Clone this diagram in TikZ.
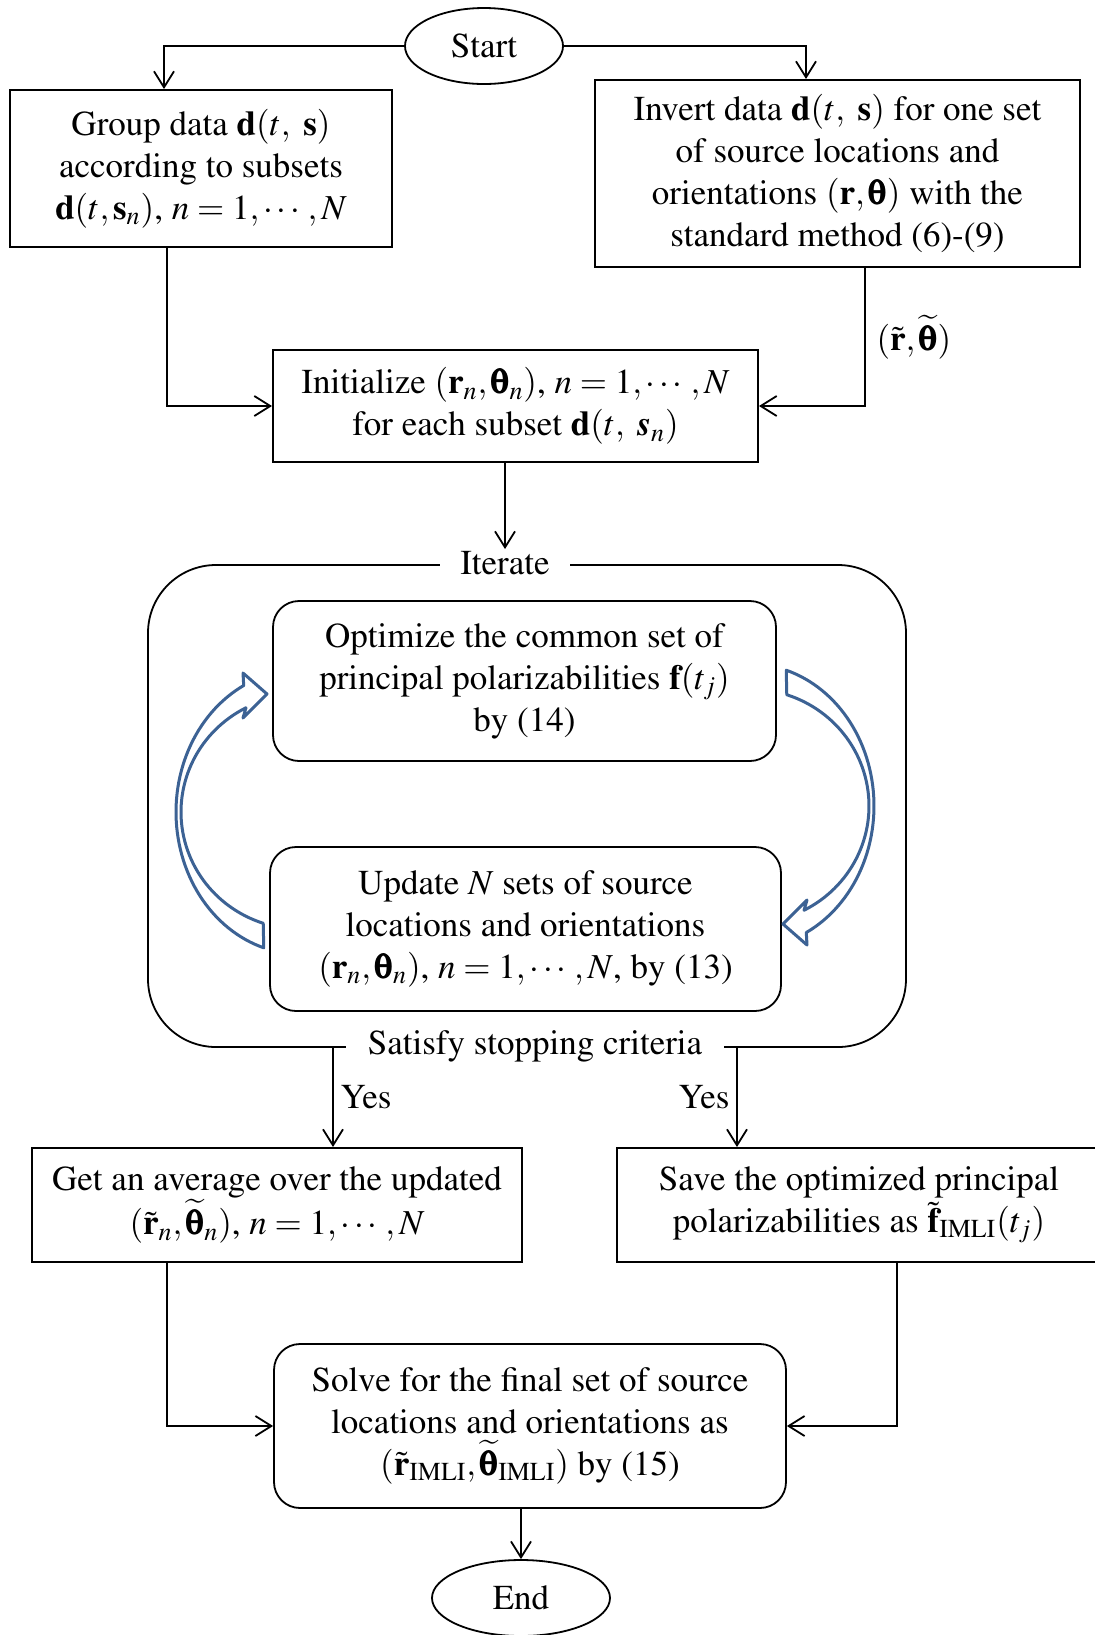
\documentclass[tikz,border=0pt]{standalone}
\usepackage[T1]{fontenc}
\usepackage{amsmath}
\usepackage{mathptmx}
\usepackage[Symbol]{upgreek}
\usetikzlibrary{shapes.geometric,arrows.meta}
\definecolor{arrowblue}{RGB}{60,98,148}
\newcommand{\vb}[1]{\mathbf{#1}}
\newcommand{\vbi}[1]{\text{\normalfont\bfseries\itshape #1}}
\newcommand{\bth}{\pmb{\uptheta}}
\begin{document}
\begin{tikzpicture}[x=0.5pt,y=-0.5pt,
  every node/.style={font=\fontsize{17.5}{21}\selectfont, align=center},
  box/.style={draw, line width=1pt, inner sep=0pt},
  rbox/.style={draw, line width=0.9pt, rounded corners=13pt, inner sep=0pt},
  term/.style={draw, ellipse, line width=0.9pt, inner sep=0pt, minimum width=79pt, minimum height=38pt},
  arr/.style={line width=0.9pt, -{Straight Barb[length=8pt,width=10pt]}},
  lab/.style={fill=white, inner xsep=10pt, inner ysep=1pt},
  blockarrow/.style={draw=arrowblue, fill=white, line width=1.5pt, line join=round}
]
\useasboundingbox (0,0) rectangle (1094,1635);

% nodes
\node[term] (start) at (484,46) {Start};
\node[box, minimum width=191pt, minimum height=78.5pt] (group) at (201,168.5)
  {Group data $\vb{d}(t,\ \vb{s})$\\ according to subsets\\ $\vb{d}(t,\vb{s}_n)$, $n=1,\cdots,N$};
\node[box, minimum width=242.5pt, minimum height=93.5pt] (invert) at (837.5,173.5)
  {Invert data $\vb{d}(t,\ \vb{s})$ for one set\\ of source locations and\\ orientations $(\vb{r},\bth)$ with the\\ standard method (6)-(9)};
\node[box, minimum width=242.5pt, minimum height=56pt] (init) at (515.5,406)
  {Initialize $(\vb{r}_n,\bth_n)$, $n=1,\cdots,N$\\ for each subset $\vb{d}(t,\ \vbi{s}_n)$};

\node[draw, line width=0.9pt, rounded corners=34pt, minimum width=379pt, minimum height=241pt, inner sep=0pt] (iter) at (527,806) {};
\node[lab] (itl) at (505,563) {Iterate};
\node[lab, inner xsep=11pt] (stop) at (535,1046) {Satisfy stopping criteria};

\node[rbox, minimum width=251.5pt, minimum height=80pt] (opt) at (524.5,681)
  {Optimize the common set of\\ principal polarizabilities $\vb{f}(t_j)$\\ by (14)};
\node[rbox, minimum width=255.5pt, minimum height=82pt] (upd) at (525.5,929)
  {Update $N$ sets of source\\ locations and orientations\\ $(\vb{r}_n,\bth_n)$, $n=1,\cdots,N$, by (13)};

\node[box, minimum width=245pt, minimum height=57pt] (get) at (277,1205)
  {Get an average over the updated\\ $(\tilde{\vb{r}}_n,\widetilde{\bth}_n)$, $n=1,\cdots,N$};
\node[box, minimum width=242pt, minimum height=57pt] (save) at (859,1205)
  {Save the optimized principal\\ polarizabilities as $\tilde{\vb{f}}_{\mathrm{IMLI}}(t_j)$};
\node[rbox, minimum width=256pt, minimum height=82pt] (solve) at (530,1426)
  {Solve for the final set of source\\ locations and orientations as\\ $(\tilde{\vb{r}}_{\mathrm{IMLI}},\widetilde{\bth}_{\mathrm{IMLI}})$ by (15)};
\node[term, minimum width=89pt] (end) at (521,1598) {End};

% connectors
\draw[arr] (start.west) -| ([xshift=-18.5pt]group.north);
\draw[arr] (start.east) -| ([xshift=-15.75pt]invert.north);
\draw[arr] ([xshift=-17pt]group.south) |- (init.west);
\draw[arr] ([xshift=13.75pt]invert.south) |- (init.east)
  node[pos=0.25, right=2pt] {$(\tilde{\vb{r}},\widetilde{\bth})$};
\draw[arr] (itl.north |- init.south) -- (itl.north);
\draw[arr] ([xshift=-97pt]iter.south) -- ([xshift=-97pt]iter.south |- get.north)
  node[pos=0.5, right=0pt] {Yes};
\draw[arr] ([xshift=105pt]iter.south) -- ([xshift=105pt]iter.south |- save.north)
  node[pos=0.5, left=0pt] {Yes};
\draw[arr] ([xshift=-55pt]get.south) |- (solve.west);
\draw[arr] ([xshift=19pt]save.south) |- (solve.east);
\draw[arr] (end.north |- solve.south) -- (end.north);

% blue curved block arrows
\draw[blockarrow] plot[domain=107:243, samples=60] ({300+124*cos(\x)},{812+142*sin(\x)})
  -- (243,673) -- (267,694) -- (243,718)
  -- plot[domain=243:108, samples=60] ({300+119*cos(\x)},{812+117*sin(\x)}) -- cycle;
\begin{scope}[rotate around={180:(525,809)}]
\draw[blockarrow] plot[domain=107:243, samples=60] ({300+124*cos(\x)},{812+142*sin(\x)})
  -- (243,673) -- (267,694) -- (243,718)
  -- plot[domain=243:108, samples=60] ({300+119*cos(\x)},{812+117*sin(\x)}) -- cycle;
\end{scope}
\end{tikzpicture}
\end{document}
